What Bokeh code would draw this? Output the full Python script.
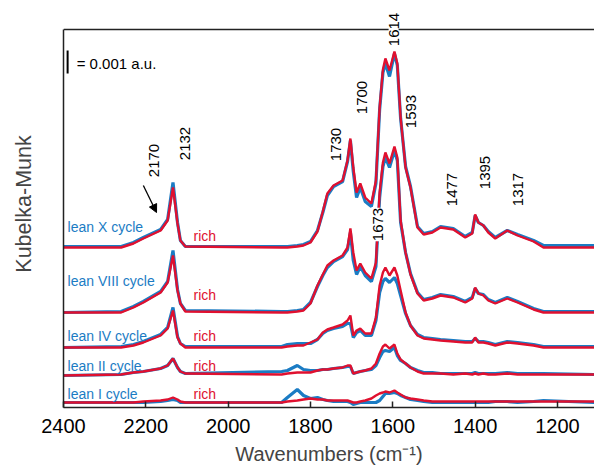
import math
from bokeh.plotting import figure
from bokeh.models import Range1d, FixedTicker, Label, Arrow, NormalHead, Span
from bokeh.embed import file_html
from bokeh.resources import INLINE

# ---------------- data ----------------
WN = [2400, 2260, 2230, 2206, 2164, 2147, 2134, 2123, 2116, 2104,
      1870, 1856, 1832, 1817, 1800, 1783, 1770, 1759, 1744, 1722,
      1710, 1703, 1696, 1688, 1679, 1667, 1652, 1641, 1632, 1624,
      1618, 1608, 1596, 1589, 1581, 1569, 1557, 1540, 1525, 1504,
      1484, 1453, 1424, 1407, 1400, 1392, 1380, 1368, 1351, 1322,
      1297, 1258, 1234, 1110]

# heights above each trace's own baseline (units: 0.001 a.u. = 23)
X_RED = [0, 0, 4, 9, 17, 27, 60, 24, 7, 1,
         0, 0, 1, 2, 5, 16, 36, 54, 62, 67,
         87, 109, 80, 55, 64, 50, 44, 67, 140, 178,
         189, 177, 196, 184, 130, 80, 60, 20, 13, 15,
         20, 18, 10, 14, 33, 25, 22, 15, 9, 17,
         12, 6, 0, 0]
X_BLUE = [1, 1, 5, 10, 18, 28, 65, 25, 7, 1,
          1, 1, 2, 3, 6, 17, 35, 52, 61, 66,
          86, 107, 76, 50, 60, 46, 41, 64, 138, 175,
          184, 171, 194, 182, 129, 81, 61, 21, 14, 16,
          21, 19, 11, 15, 32, 25, 22, 16, 10, 17,
          13, 7, 2, 2]
VIII_RED = [0, 0, 5, 10, 20, 30, 57, 22, 9, 1,
            0, 0, 1, 2, 9, 27, 38, 47, 52, 57,
            65, 84, 60, 42, 49, 40, 34, 50, 120, 150,
            160, 149, 166, 155, 92, 60, 38, 19, 12, 14,
            17, 15, 10, 14, 25, 19, 17, 12, 9, 14,
            10, 3, 0, 0]
VIII_BLUE = [0, 1, 6, 11, 21, 31, 62, 23, 9, 2,
             1, 1, 2, 3, 10, 26, 37, 45, 51, 56,
             63, 80, 52, 38, 46, 37, 31, 46, 115, 146,
             155, 145, 162, 152, 90, 60, 39, 20, 13, 15,
             18, 16, 11, 15, 24, 19, 18, 13, 10, 15,
             11, 4, 1, 1]
IV_RED = [0, 0, 2, 5, 12, 19, 37, 10, 4, 0,
          0, 1, 2, 2, 5, 8, 15, 18, 20, 23,
          27, 32, 12, 17, 19, 14, 14, 30, 62, 75,
          80, 72, 80, 72, 57, 35, 22, 12, 9, 8,
          7, 6, 5, 5, 10, 5, 5, 4, 2, 5,
          4, 2, 0, 0]
IV_BLUE = [0, 1, 3, 6, 13, 20, 40, 11, 4, 1,
           1, 3, 4, 4, 4, 8, 14, 17, 19, 21,
           24, 24, 10, 15, 17, 12, 12, 27, 55, 66,
           69, 65, 70, 64, 52, 34, 22, 13, 10, 9,
           8, 7, 6, 6, 9, 6, 6, 5, 3, 6,
           5, 3, 1, 1]
II_RED = [0, 1, 3, 4, 7, 10, 17, 8, 4, 2,
          1, 2, 3, 3, 3, 5, 6, 6, 7, 8,
          10, 10, 2, 3, 4, 5, 7, 12, 22, 29,
          31, 27, 31, 22, 16, 12, 8, 4, 2, 2,
          2, 1, 2, 1, 2, 1, 2, 1, 1, 2,
          1, 1, 1, 1]
II_BLUE = [0, 1, 3, 4, 7, 10, 17, 8, 4, 2,
           4, 5, 10, 6, 5, 5, 6, 6, 7, 8,
           9, 9, 2, 3, 4, 5, 6, 10, 18, 24,
           25, 24, 28, 20, 15, 12, 8, 5, 3, 3,
           2, 2, 2, 2, 3, 2, 2, 2, 2, 3,
           2, 2, 2, 1]
I_RED = [0, 0, 0, 1, 2, 3, 5, 3, 1, 0,
         0, 1, 2, 3, 4, 3, 3, 2, 2, 2,
         2, 1, 0, 0, 1, 2, 4, 7, 9, 10,
         11, 10, 12, 10, 8, 5, 4, 3, 2, 1,
         1, 1, 1, 1, 1, 1, 1, 1, 1, 1,
         1, 1, 1, 1]
I_BLUE = [0, 0, 0, 0, 1, 2, 3, 2, 0, 0,
          0, 5, 13, 7, 4, 5, 3, 2, 1, 1,
          1, 0, -2, -1, 0, 0, 0, 0, 2, 6,
          9, 9, 10, 9, 7, 5, 3, 2, 1, 0,
          0, 0, 0, 0, 0, 0, 0, 0, 1, 1,
          0, 1, 2, 0]

LEAN_LABELS = ["lean X cycle", "lean VIII cycle", "lean IV cycle", "lean II cycle", "lean I cycle"]
RICH_LABEL = "rich"
OFFSETS = [160, 95, 60, 32, 5]
BLUE_SERIES = [X_BLUE, VIII_BLUE, IV_BLUE, II_BLUE, I_BLUE]
RED_SERIES = [X_RED, VIII_RED, IV_RED, II_RED, I_RED]

PEAK_LABELS = ["2170", "2132", "1730", "1700", "1614", "1593", "1477", "1395", "1317", "1673"]
X_TICKS = [2400, 2200, 2000, 1800, 1600, 1400, 1200]
SCALE_TEXT = "= 0.001 a.u."
SCALE_UNITS = 23  # data units per 0.001 a.u.
Y_TOP = 378       # top of the drawn frame

BLUE = "#1b7cc4"
RED = "#e0102f"
FONT = "Liberation Sans"

# ---------------- figure ----------------
p = figure(width=594, height=468, x_range=Range1d(2400, 1110), y_range=Range1d(0, 407),
           output_backend="svg", toolbar_location=None,
           min_border_left=63, min_border_right=0, min_border_top=0, min_border_bottom=61)
p.outline_line_color = None
p.xgrid.visible = False
p.ygrid.visible = False
p.background_fill_color = "white"
p.border_fill_color = "white"

ax = p.xaxis[0]
ax.ticker = FixedTicker(ticks=X_TICKS)
ax.major_tick_in = 6
ax.major_tick_out = 0
ax.minor_tick_line_color = None
ax.axis_line_width = 1.5
ax.axis_line_color = "#222222"
ax.major_tick_line_color = "#222222"
ax.major_tick_line_width = 1.5
ax.major_label_text_font = FONT
ax.major_label_text_font_size = "20px"
ax.major_label_text_color = "black"
ax.major_label_standoff = 11
ax.axis_label = "Wavenumbers (cm\u207b\u00b9)"
ax.axis_label_text_font = FONT
ax.axis_label_text_font_size = "20px"
ax.axis_label_text_font_style = "normal"
ax.axis_label_standoff = 7

ay = p.yaxis[0]
ay.ticker = FixedTicker(ticks=[])
ay.bounds = (0, Y_TOP)
ay.major_tick_out = 0
ay.major_tick_in = 0
ay.minor_tick_line_color = None
ay.major_label_text_font_size = "0px"
ay.major_label_standoff = 0
ay.axis_line_width = 1.5
ay.axis_line_color = "#222222"
ay.axis_label = "Kubelka-Munk"
ay.axis_label_text_font = FONT
ay.axis_label_text_font_size = "21.5px"
ay.axis_label_text_font_style = "normal"
ay.axis_label_standoff = 28

# top border of the frame
p.add_layout(Span(location=Y_TOP, dimension="width", line_color="#222222", line_width=1.5))

# ---------------- spectra ----------------
for off, ys in zip(OFFSETS, BLUE_SERIES):
    p.line(WN, [off + v for v in ys], line_color=BLUE, line_width=3.2)
for off, ys in zip(OFFSETS, RED_SERIES):
    p.line(WN, [off + v for v in ys], line_color=RED, line_width=2.4)

# ---------------- labels ----------------
lean_y = [181, 127, 72, 42, 14]
rich_y = [172, 113, 72, 42, 14]
for txt, ly, ry in zip(LEAN_LABELS, lean_y, rich_y):
    p.add_layout(Label(x=2390, y=ly, text=txt, text_color=BLUE, text_font=FONT,
                       text_font_size="14px", text_align="left", text_baseline="middle"))
    p.add_layout(Label(x=2084, y=ry, text=RICH_LABEL, text_color=RED, text_font=FONT,
                       text_font_size="14px", text_align="left", text_baseline="middle"))

peak_pos = [(2181, 247), (2104, 264), (1737, 263), (1676, 310), (1598, 378),
            (1555, 296), (1455, 218), (1375, 235), (1295, 218), (1635, 183)]
for txt, (px, py) in zip(PEAK_LABELS, peak_pos):
    bg = "white" if txt in ("1614", "1673") else None
    p.add_layout(Label(x=px, y=py, text=txt, angle=math.pi / 2, text_color="black",
                       text_font=FONT, text_font_size="15px", text_align="center",
                       text_baseline="middle", background_fill_color=bg))

p.add_layout(Arrow(end=NormalHead(size=8, fill_color="black", line_color="black"),
                   x_start=2206, y_start=222, x_end=2174, y_end=195,
                   line_width=1.3, line_color="black"))

# scale bar
p.line([2390, 2390], [334, 334 + SCALE_UNITS], line_color="black", line_width=2)
p.add_layout(Label(x=2368, y=344, text=SCALE_TEXT, text_color="black", text_font=FONT,
                   text_font_size="15px", text_align="left", text_baseline="middle"))

open("out.html", "w").write(file_html(p, INLINE))
